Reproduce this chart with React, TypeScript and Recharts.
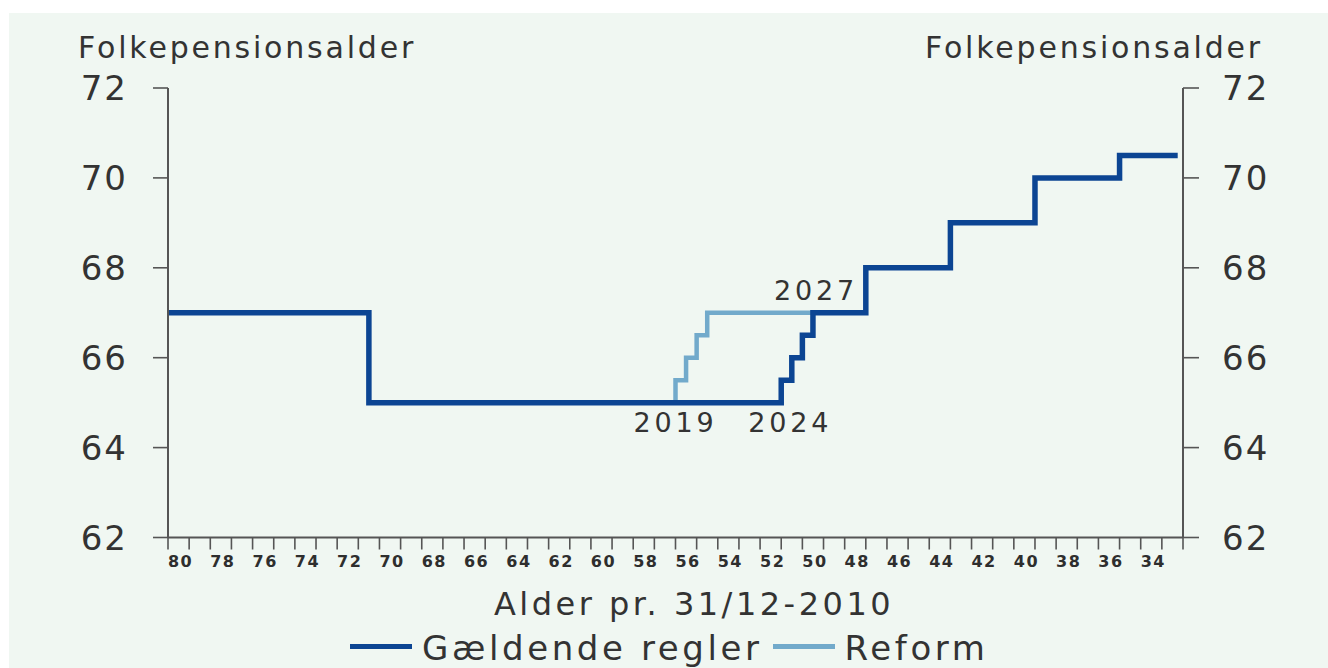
import { LineChart, Line, XAxis, YAxis, Legend, ReferenceDot } from "recharts";

// Folkepensionsalder efter alder pr. 31/12-2010 (halvårsskridt)
const currentAges = [80.5, 71, 51.5, 51, 50.5, 50, 47.5, 43.5, 39.5, 35.5, 32.75];
const currentPension = [67, 65, 65.5, 66, 66.5, 67, 68, 69, 70, 70.5, 70.5];

const reformAges = [56.5, 56.5, 56, 55.5, 55, 50];
const reformPension = [65, 65.5, 66, 66.5, 67, 67];

const ageLabels = [80, 78, 76, 74, 72, 70, 68, 66, 64, 62, 60, 58, 56, 54, 52, 50, 48, 46, 44, 42, 40, 38, 36, 34];
const pensionTicks = [62, 64, 66, 68, 70, 72];

const annotationYears = ["2019", "2024", "2027"];
const annotationAges = [56.5, 51.5, 50];
const annotationPension = [65, 65, 67];

const seriesNames = ["Gældende regler", "Reform"];

const AGE_MIN = 32.5;
const AGE_MAX = 80.5;
// one tick mark per cohort boundary, 80.5 .. 32.5
const ageBoundaries = Array.from({ length: AGE_MAX - AGE_MIN + 1 }, (_, i) => AGE_MAX - i);

const currentData = currentAges.map((age, i) => ({ age, pension: currentPension[i] }));
const reformData = reformAges.map((age, i) => ({ age, pension: reformPension[i] }));

const FONT = '"DejaVu Sans", Verdana, sans-serif';
const TEXT = "#333333";
const AXIS = "#555555";
const DARK = "#0c4593";
const LIGHT = "#72aacb";

const margin = { top: 88, right: 45, bottom: 129.5, left: 68 };
const plotLeft = 168;
const plotRight = 1183;
const slotPx = (plotRight - plotLeft) / (AGE_MAX - AGE_MIN);

const leftTitle = () => (
  <text x={plotLeft - 90} y={58} fill={TEXT} fontFamily={FONT} fontSize={30} letterSpacing={2.8}>
    Folkepensionsalder
  </text>
);

const rightTitle = () => (
  <text x={plotRight + 80} y={58} textAnchor="end" fill={TEXT} fontFamily={FONT} fontSize={30} letterSpacing={2.8}>
    Folkepensionsalder
  </text>
);

const xTitle = () => (
  <text x={694} y={615} textAnchor="middle" fill={TEXT} fontFamily={FONT} fontSize={32} letterSpacing={3.5}>
    Alder pr. 31/12-2010
  </text>
);

// tick marks sit on cohort boundaries, labels in the middle of each (even) cohort
const AgeTick = (props: any) => {
  const { x, y, payload } = props;
  const age = payload.value - 0.5;
  if (!ageLabels.includes(age)) return null;
  return (
    <text
      x={x + slotPx / 2 + 2}
      y={y}
      dy="0.71em"
      textAnchor="middle"
      fill="#2e2e2e"
      fontSize={16}
      fontWeight="bold"
      fontFamily={FONT}
      letterSpacing={1.5}
    >
      {age}
    </text>
  );
};

const renderLegend = (props: any) => {
  const items = [...(props.payload || [])].sort(
    (a: any, b: any) => seriesNames.indexOf(a.value) - seriesNames.indexOf(b.value)
  );
  return (
    <div
      style={{
        display: "flex",
        alignItems: "flex-start",
        fontFamily: FONT,
        fontSize: 34,
        lineHeight: "34px",
        color: TEXT,
        letterSpacing: 3.6,
        whiteSpace: "nowrap",
      }}
    >
      {items.map((it: any, i: number) => (
        <div key={it.value} style={{ display: "flex", alignItems: "flex-start", marginRight: i === 0 ? 10 : 0 }}>
          <span
            style={{
              display: "inline-block",
              width: 62,
              height: 5,
              background: it.color,
              marginTop: 13,
              marginRight: 10,
            }}
          />
          <span>{it.value}</span>
        </div>
      ))}
    </div>
  );
};

export default function App() {
  const yTick = { fill: TEXT, fontSize: 34, fontFamily: FONT, letterSpacing: 2 };
  return (
    <div style={{ position: "absolute", left: 0, top: 0, width: 1328, height: 668, background: "#ffffff", overflow: "hidden" }}>
      <div style={{ position: "absolute", left: 9, top: 13, right: 0, bottom: 0, background: "#f0f7f2" }} />
      <div style={{ position: "absolute", left: 0, top: 0 }}>
        <LineChart width={1328} height={668} margin={margin}>
          <XAxis
            xAxisId="age"
            type="number"
            dataKey="age"
            domain={[AGE_MIN, AGE_MAX]}
            allowDataOverflow
            reversed
            ticks={ageBoundaries}
            interval={0}
            height={1}
            tickSize={12}
            tickMargin={6.5}
            tick={AgeTick}
            axisLine={{ stroke: AXIS, strokeWidth: 2 }}
            tickLine={{ stroke: AXIS, strokeWidth: 1.6 }}
            label={xTitle}
          />
          <YAxis
            yAxisId="left"
            orientation="left"
            width={100}
            domain={[62, 72]}
            allowDataOverflow
            ticks={pensionTicks}
            interval={0}
            tickSize={15}
            tickMargin={25}
            axisLine={{ stroke: AXIS, strokeWidth: 2 }}
            tickLine={{ stroke: AXIS, strokeWidth: 1.6 }}
            tick={yTick}
            label={leftTitle}
          />
          <YAxis
            yAxisId="right"
            orientation="right"
            width={100}
            domain={[62, 72]}
            allowDataOverflow
            ticks={pensionTicks}
            interval={0}
            tickSize={16}
            tickMargin={23}
            axisLine={{ stroke: AXIS, strokeWidth: 2 }}
            tickLine={{ stroke: AXIS, strokeWidth: 1.6 }}
            tick={yTick}
            label={rightTitle}
          />
          <Line
            xAxisId="age"
            yAxisId="left"
            data={reformData}
            dataKey="pension"
            name={seriesNames[1]}
            type="stepAfter"
            stroke={LIGHT}
            strokeWidth={4.5}
            dot={false}
            activeDot={false}
            isAnimationActive={false}
          />
          <Line
            xAxisId="age"
            yAxisId="left"
            data={currentData}
            dataKey="pension"
            name={seriesNames[0]}
            type="stepAfter"
            stroke={DARK}
            strokeWidth={5.5}
            dot={false}
            activeDot={false}
            isAnimationActive={false}
          />
          {annotationYears.map((year, i) => {
            const below = i < 2;
            return (
              <ReferenceDot
                key={year}
                xAxisId="age"
                yAxisId="left"
                x={annotationAges[i]}
                y={annotationPension[i]}
                r={0}
                fill="none"
                stroke="none"
                label={{
                  value: year,
                  position: below ? "bottom" : "top",
                  offset: below ? 10 : 12.5,
                  dx: i === 1 ? 9 : i === 2 ? 3 : 0,
                  fill: TEXT,
                  fontSize: 27,
                  fontFamily: FONT,
                  letterSpacing: 3.8,
                }}
              />
            );
          })}
          <Legend
            verticalAlign="middle"
            align="center"
            content={renderLegend}
            wrapperStyle={{ top: 631, left: 350, width: 900, height: 34 }}
          />
        </LineChart>
      </div>
    </div>
  );
}
